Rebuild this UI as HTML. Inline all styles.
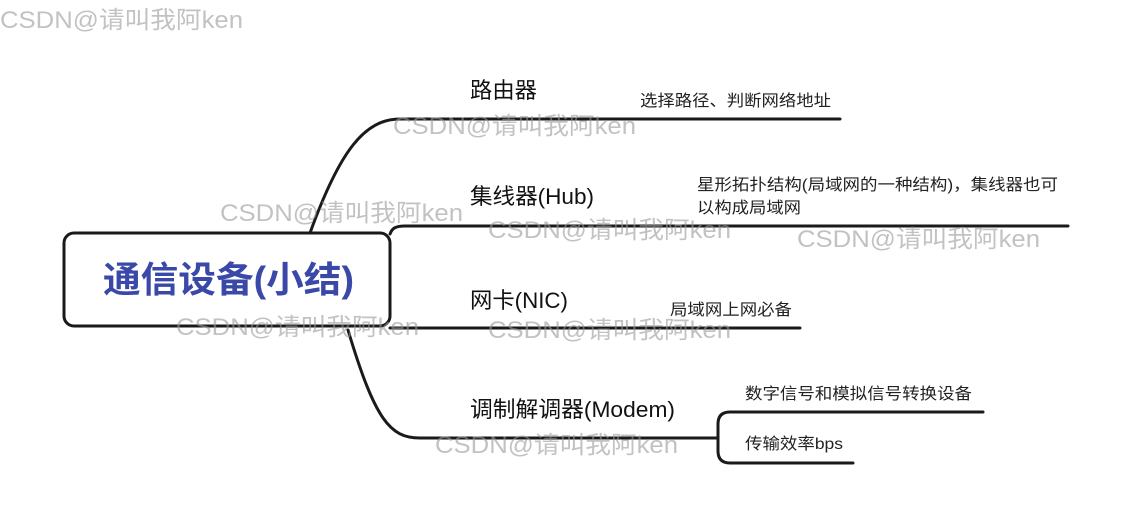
<!DOCTYPE html>
<html><head><meta charset="utf-8"><style>
html,body{margin:0;padding:0;background:#fff;}
svg{display:block;}
text{font-family:"Liberation Sans","Noto Sans CJK SC",sans-serif;}
</style></head><body>
<svg width="1131" height="528" viewBox="0 0 1131 528" xmlns="http://www.w3.org/2000/svg">
<g fill="none" stroke="#1a1a1a" stroke-width="3" stroke-linecap="round">
<path d="M310,233 C340,150 365,119 400,119 L840,119"/>
<path d="M390,234 C392,228 396,226 405,226 L1068,226"/>
<path d="M390,328 L800,328"/>
<path d="M348,330 C375,420 390,438 420,438 L700,438"/>
<path d="M700,438 L718,438"/>
<path d="M983,412 L730,412 Q718,412 718,424 L718,451 Q718,463 730,463 L853,463"/>
</g>
<rect x="64" y="233" width="326" height="93" rx="10" fill="#fff" stroke="#1a1a1a" stroke-width="3"/>
<text x="103" y="292" textLength="251" lengthAdjust="spacingAndGlyphs" font-size="36" font-weight="bold" fill="#3a48a8">通信设备(小结)</text>
<g font-size="22" fill="#111">
<text x="470" y="98" textLength="67" lengthAdjust="spacingAndGlyphs">路由器</text>
<text x="470" y="204" textLength="124" lengthAdjust="spacingAndGlyphs">集线器(Hub)</text>
<text x="470" y="308" textLength="98" lengthAdjust="spacingAndGlyphs">网卡(NIC)</text>
<text x="470" y="417" textLength="205" lengthAdjust="spacingAndGlyphs">调制解调器(Modem)</text>
</g>
<g font-size="16" fill="#222">
<text x="640" y="106" textLength="191" lengthAdjust="spacingAndGlyphs">选择路径、判断网络地址</text>
<text x="697" y="190" textLength="361" lengthAdjust="spacingAndGlyphs">星形拓扑结构(局域网的一种结构)，集线器也可</text>
<text x="697" y="213" textLength="104" lengthAdjust="spacingAndGlyphs">以构成局域网</text>
<text x="670" y="315" textLength="122" lengthAdjust="spacingAndGlyphs">局域网上网必备</text>
<text x="745" y="399" textLength="227" lengthAdjust="spacingAndGlyphs">数字信号和模拟信号转换设备</text>
<text x="745" y="449" textLength="98" lengthAdjust="spacingAndGlyphs">传输效率bps</text>
</g>
<g font-size="24" fill="#999" fill-opacity="0.6">
<text x="0" y="28" textLength="243" lengthAdjust="spacingAndGlyphs">CSDN@请叫我阿ken</text>
<text x="393" y="134" textLength="243" lengthAdjust="spacingAndGlyphs">CSDN@请叫我阿ken</text>
<text x="220" y="221" textLength="243" lengthAdjust="spacingAndGlyphs">CSDN@请叫我阿ken</text>
<text x="488" y="238" textLength="243" lengthAdjust="spacingAndGlyphs">CSDN@请叫我阿ken</text>
<text x="797" y="247" textLength="243" lengthAdjust="spacingAndGlyphs">CSDN@请叫我阿ken</text>
<text x="176" y="335" textLength="243" lengthAdjust="spacingAndGlyphs">CSDN@请叫我阿ken</text>
<text x="488" y="338" textLength="243" lengthAdjust="spacingAndGlyphs">CSDN@请叫我阿ken</text>
<text x="435" y="453" textLength="243" lengthAdjust="spacingAndGlyphs">CSDN@请叫我阿ken</text>
</g>
</svg>
</body></html>
